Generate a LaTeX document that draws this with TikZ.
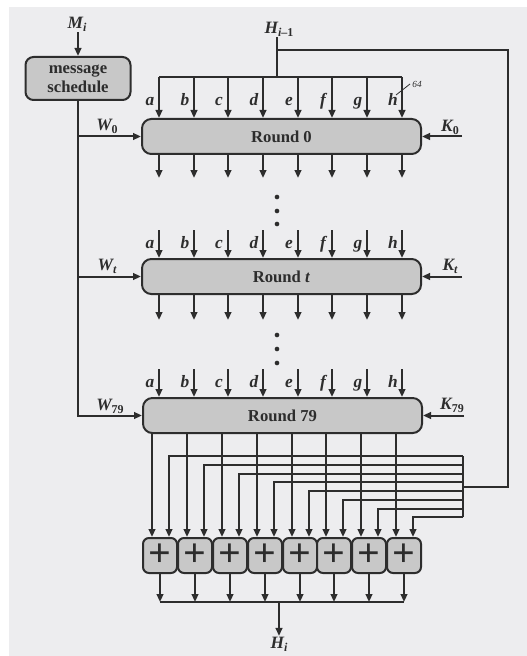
\documentclass[tikz,border=0pt]{standalone}
\usepackage{fontspec}
\setmainfont{Liberation Serif}
\usetikzlibrary{arrows.meta}
\definecolor{bg}{RGB}{237,237,239}
\definecolor{boxfill}{RGB}{200,200,200}
\definecolor{ink}{RGB}{45,45,45}
\newcommand{\subs}[1]{\raisebox{-0.35ex}{\fontsize{9}{9}\selectfont #1}}
\begin{document}
\begin{tikzpicture}[x=0.75pt,y=-0.75pt,line width=1.5pt,color=ink,
  arr/.style={-{Triangle[length=6pt,width=5pt]}},
  roundbox/.style={draw=ink,fill=boxfill,rounded corners=7pt,line width=1.5pt,minimum width=209.25pt,minimum height=26.25pt,inner sep=0pt,font=\fontsize{12.5}{14}\selectfont\bfseries},
  schedbox/.style={draw=ink,fill=boxfill,rounded corners=6pt,line width=1.5pt,minimum width=78.75pt,minimum height=32.25pt,inner sep=0pt,align=center,font=\fontsize{12.5}{14.3}\selectfont\bfseries},
  addbox/.style={draw=ink,fill=boxfill,rounded corners=4.5pt,line width=1.5pt,minimum width=25.5pt,minimum height=26.25pt,inner sep=0pt,font=\fontsize{30}{30}\selectfont\bfseries},
  lab/.style={inner sep=0pt,font=\fontsize{13}{14}\selectfont\bfseries\itshape},
  dot/.style={fill=ink,draw=none,circle,inner sep=0pt,minimum size=3.5pt}]

\useasboundingbox (0,0) rectangle (527,656);
\fill[bg] (9,7) rectangle (527,656);

% message schedule
\node[schedbox] (sched) at (78,78.5) {message\\schedule};
\node[lab] (Mi) at (77,24) {M\subs{i}};
\draw[arr] (78,0 |- Mi.south) -- (sched.north);

% rounds
\node[roundbox] (r0) at (281.5,136.5) {Round 0};
\node[roundbox] (rt) at (281.5,276.5) {Round \textit{t}};
\node[roundbox] (r79) at (282.5,415.5) {Round 79};

% H_{i-1} input and feedback
\node[lab] (Hin) at (279,29) {H\subs{i\upshape –1}};
\coordinate (Hbus) at (277,77);
\coordinate (Hsplit) at (277,50);
\coordinate (RT) at (508,50);
\coordinate (RB) at (508,487);
\coordinate (FBm) at (463,487);
\coordinate (FBtop) at (463,456);
\coordinate (FBbot) at (463,517.25);
\draw (277,0 |- Hin.south) -- (Hbus);
\draw (Hsplit) -- (RT) -- (RB) -- (FBm);
\draw (FBtop) -- (FBbot);
\coordinate (bL) at (159,77);
\coordinate (bR) at (402,77);
\draw (bL) -- (bR);

% input / output arrows of rounds
\foreach \xx/\l in {159/a,194/b,228/c,263/d,298/e,332/f,367/g,402/h}{
  \draw[arr] (\xx,77) -- (\xx,0 |- r0.north);
  \node[lab,anchor=base] at (\xx-9,106) {\l};
  \draw[arr] (\xx,0 |- r0.south) -- (\xx,178);
  \draw[arr] (\xx,230) -- (\xx,0 |- rt.north);
  \node[lab,anchor=base] at (\xx-9,248) {\l};
  \draw[arr] (\xx,0 |- rt.south) -- (\xx,320);
  \draw[arr] (\xx,369) -- (\xx,0 |- r79.north);
  \node[lab,anchor=base] at (\xx-9,387) {\l};
}
\draw[line width=0.6pt] (396,95) -- (410,84);
\node[inner sep=0pt,font=\fontsize{7}{7}\selectfont\itshape] at (417,84) {64};

% dots
\foreach \y in {197,211,224,335,349,363}{\node[dot] at (277,\y) {};}

% W inputs
\draw[arr] (sched.south) |- (r79.west);
\draw[arr] (sched.south |- r0.west) -- (r0.west);
\draw[arr] (sched.south |- rt.west) -- (rt.west);
\node[lab] at (107,126) {W\subs{\upshape 0}};
\node[lab] at (107,266) {W\subs{t}};
\node[lab] at (110,406) {W\subs{\upshape 79}};

% K inputs
\draw[arr] (462,0 |- r0.east) -- (r0.east);
\draw[arr] (462,0 |- rt.east) -- (rt.east);
\draw[arr] (464,0 |- r79.east) -- (r79.east);
\node[lab] at (450,127) {K\subs{\upshape 0}};
\node[lab] at (450,266) {K\subs{t}};
\node[lab] at (452,405) {K\subs{\upshape 79}};

% adders
\foreach \k/\cx/\fy in {0/160/456,1/195/465,2/230/474,3/265/482,4/300/491,5/334/500,6/369/509,7/404/517}{
  \node[addbox] (a\k) at (\cx,555.5) {+};
  \draw[arr] (\cx-8,0 |- r79.south) -- (\cx-8,0 |- a\k.north);
  \draw[arr] (463,\fy) -| (\cx+9,0 |- a\k.north);
  \draw[arr] (a\k.south) -- (\cx,602);
}
\coordinate (oL) at (160,602);
\coordinate (oR) at (404,602);
\draw (oL) -- (oR);
\node[lab] (Hi) at (279,644) {H\subs{i}};
\draw[arr] (279,602) -- (Hi.north);
\end{tikzpicture}
\end{document}
